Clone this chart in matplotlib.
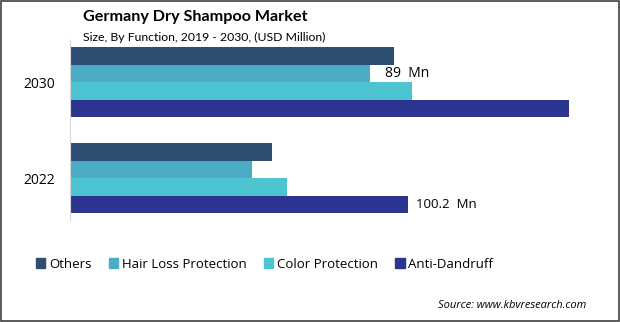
import matplotlib
matplotlib.use("Agg")
import matplotlib.pyplot as plt
from matplotlib.patches import Rectangle, Patch

years = ["2022", "2030"]
series = ["Others", "Hair Loss Protection", "Color Protection", "Anti-Dandruff"]
others = [59.9, 96.0]
hair_loss = [53.9, 89.0]
color_prot = [64.3, 101.4]
anti_dandruff = [100.2, 147.8]
colors = ["#2E4D72", "#4AADC5", "#4DC4D1", "#2B3590"]

fig = plt.figure(figsize=(6.2, 3.22), dpi=100)
plt.rcParams['font.family'] = ['Open Sans', 'DejaVu Sans']

ax = fig.add_axes([70/620, (322-220)/322, 530/620, 180/322])
h = 17.5/96
offsets = [1.5*h, 0.5*h, -0.5*h, -1.5*h]
ypos = [0, 1]
vals = [others, hair_loss, color_prot, anti_dandruff]
for v, off, c, name in zip(vals, offsets, colors, series):
    ax.barh([y + off for y in ypos], v, height=h, color=c, label=name)

ax.set_xlim(0, 530*0.2964)
ax.set_ylim(-0.4375, 1.4375)
ax.set_yticks(ypos)
ax.set_yticklabels(years, fontsize=10)
ax.tick_params(axis='y', length=0, pad=10.8)
ax.set_xticks([])
for s in ["top", "right", "bottom"]:
    ax.spines[s].set_visible(False)
ax.spines["left"].set_color("#D9D9D9")
ax.spines["left"].set_linewidth(0.8)

ax.text(hair_loss[1] + 4.5, 1 + offsets[1], "89  Mn", va="center", ha="left", fontsize=10)
ax.text(anti_dandruff[0] + 2.5, 0 + offsets[3], "100.2  Mn", va="center", ha="left", fontsize=9.5)

fig.text(83/620, 1 - 17/322, "Germany Dry Shampoo Market", fontsize=11.6, fontweight="bold",
         family=["Lato", "DejaVu Sans"], va="center", ha="left")
fig.text(83/620, 1 - 37/322, "Size, By Function, 2019 - 2030, (USD Million)", fontsize=8.8,
         family=["Lato", "DejaVu Sans"], va="center", ha="left")

handles = [Patch(color=c, label=s) for c, s in zip(colors, series)]
fig.legend(handles=handles, loc="center left", bbox_to_anchor=(36/620, 1 - 264/322), ncol=4,
           frameon=False, fontsize=9.5, handlelength=0.7, handleheight=0.7, handletextpad=0.3,
           columnspacing=1.3, borderaxespad=0, borderpad=0)

fig.text(586/620, 1 - 305/322, "Source: www.kbvresearch.com", fontsize=8, style="italic", ha="right", va="center")

fig.patches.append(Rectangle((0.001, 0.002), 0.997, 0.995, transform=fig.transFigure, fill=False,
                             edgecolor="#404040", linewidth=1.2))

fig.savefig("out.png", dpi=100)
